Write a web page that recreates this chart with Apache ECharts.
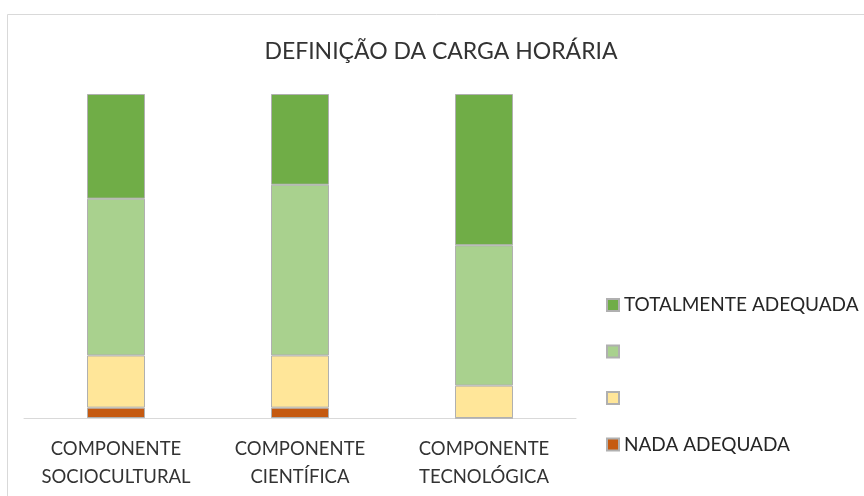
<!DOCTYPE html>
<html>
<head>
<meta charset="utf-8">
<script src="https://cdn.jsdelivr.net/npm/echarts@6/dist/echarts.min.js"></script>
<style>html,body{margin:0;padding:0;background:#fff;}#c{width:864px;height:496px;}</style>
</head>
<body>
<div id="c"></div>
<script>
const categories = ['COMPONENTE\nSOCIOCULTURAL', 'COMPONENTE\nCIENTÍFICA', 'COMPONENTE\nTECNOLÓGICA'];
const seriesNames = ['NADA ADEQUADA', ' ', '  ', 'TOTALMENTE ADEQUADA'];
const nadaAdequada = [3.2, 3.2, 0];
const serie2 = [16.1, 16.1, 10.0];
const serie3 = [48.4, 52.7, 43.3];
const totalmenteAdequada = [32.3, 28.0, 46.7];
const colors = ['#c55a11', '#ffe699', '#a9d18e', '#70ad47'];
const values = [nadaAdequada, serie2, serie3, totalmenteAdequada];

const FONT = 'Lato, "Liberation Sans", Arial, sans-serif';
const chart = echarts.init(document.getElementById('c'), null, {renderer: 'canvas'});
chart.setOption({
  animation: false,
  backgroundColor: '#ffffff',
  graphic: [{
    type: 'rect', left: 5, top: 12, silent: true,
    shape: {width: 900, height: 600},
    style: {fill: 'none', stroke: '#d9d9d9', lineWidth: 1}
  }],
  title: {
    text: 'DEFINIÇÃO DA CARGA HORÁRIA',
    left: 436, top: 35, textAlign: 'center',
    textStyle: {fontFamily: FONT, fontSize: 23, fontWeight: 'normal', color: '#333333'}
  },
  legend: {
    orient: 'vertical', left: 601, top: 288,
    itemWidth: 12, itemHeight: 12, itemGap: 22.5, icon: 'rect',
    data: ['TOTALMENTE ADEQUADA', '  ', ' ', 'NADA ADEQUADA'],
    textStyle: {fontFamily: FONT, fontSize: 19, color: '#262626', lineHeight: 24},
    selectedMode: false
  },
  grid: {left: 24, right: 288, top: 94, bottom: 78},
  xAxis: {
    type: 'category', data: categories,
    axisLine: {lineStyle: {color: '#d9d9d9', width: 1}},
    axisTick: {show: false},
    axisLabel: {fontFamily: FONT, fontSize: 18.5, color: '#333333', lineHeight: 28, margin: 17, interval: 0}
  },
  yAxis: {type: 'value', min: 0, max: 100, show: false, splitLine: {show: false}},
  series: seriesNames.map((n, i) => ({
    name: n, type: 'bar', stack: 'total', barWidth: 58,
    data: values[i],
    itemStyle: {color: colors[i], borderColor: '#b0b0b0', borderWidth: 1},
    emphasis: {disabled: true}
  }))
});
</script>
</body>
</html>
